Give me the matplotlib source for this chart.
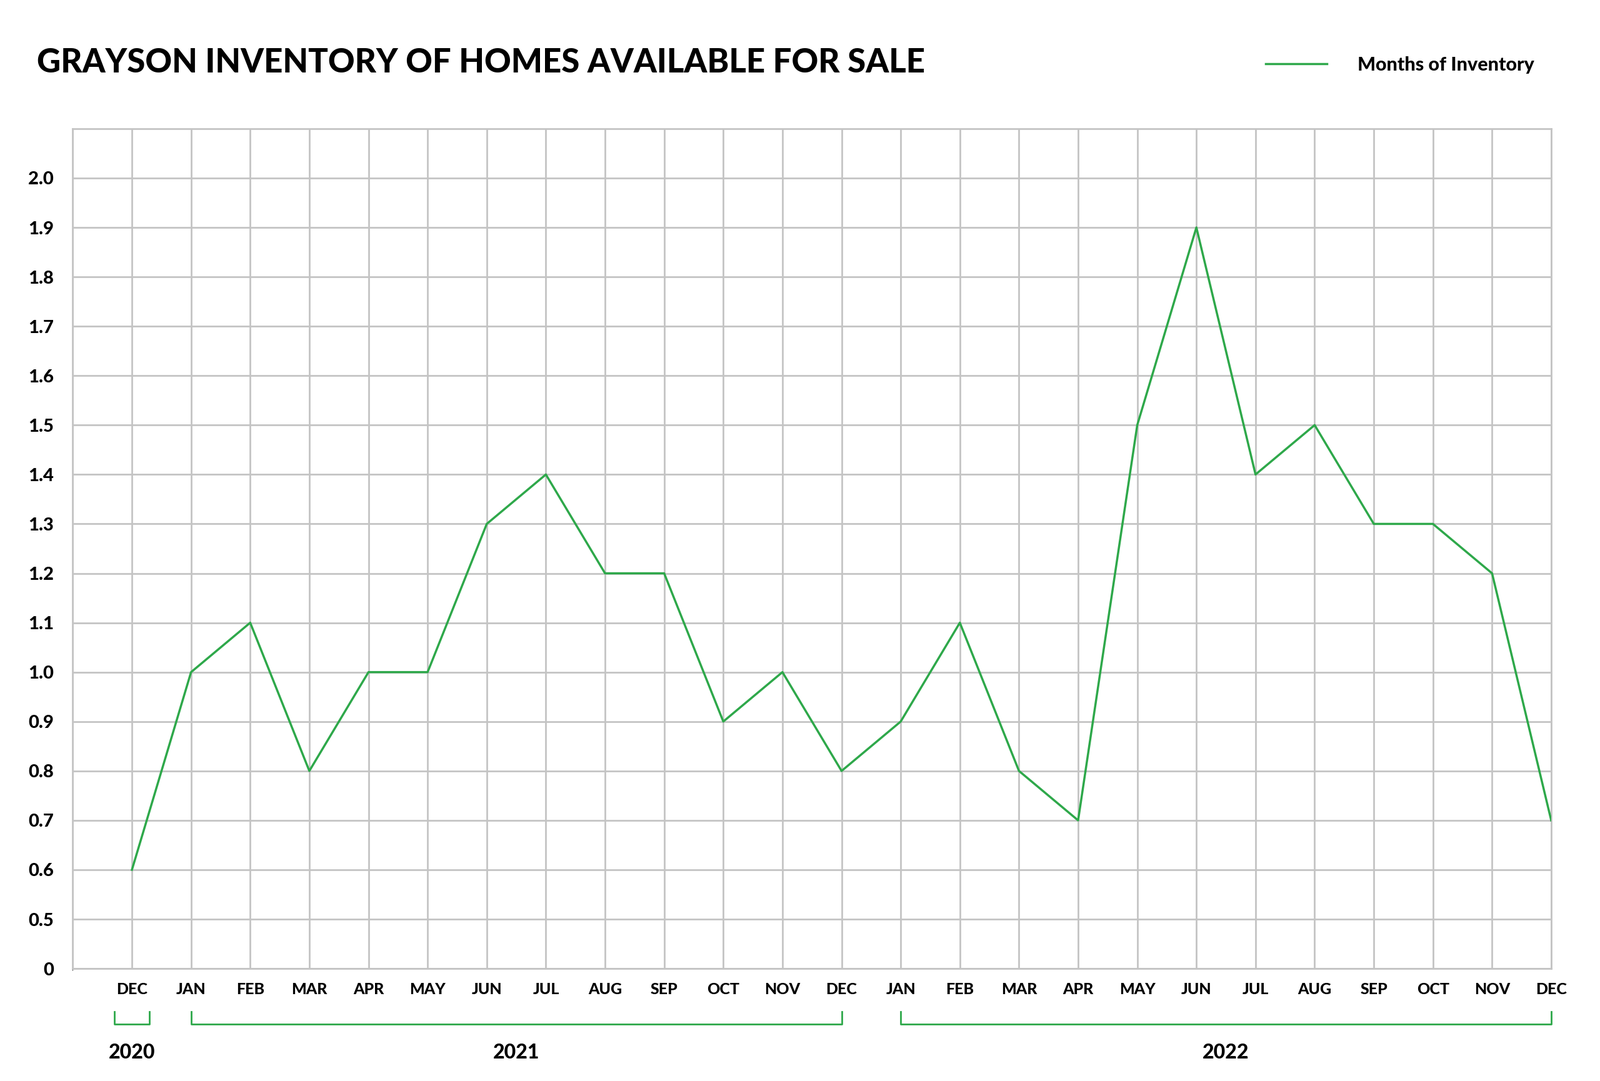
import matplotlib
matplotlib.use("Agg")
import matplotlib.pyplot as plt
import matplotlib.transforms as mtransforms

# data
months = ["DEC", "JAN", "FEB", "MAR", "APR", "MAY", "JUN", "JUL", "AUG", "SEP", "OCT", "NOV", "DEC",
          "JAN", "FEB", "MAR", "APR", "MAY", "JUN", "JUL", "AUG", "SEP", "OCT", "NOV", "DEC"]
inventory = [0.6, 1.0, 1.1, 0.8, 1.0, 1.0, 1.3, 1.4, 1.2, 1.2, 0.9, 1.0, 0.8,
             0.9, 1.1, 0.8, 0.7, 1.5, 1.9, 1.4, 1.5, 1.3, 1.3, 1.2, 0.7]
years = ["2020", "2021", "2022"]
year_spans = [(-0.3, 0.3), (1, 12), (13, 24)]
y_ticks = [0.4, 0.5, 0.6, 0.7, 0.8, 0.9, 1.0, 1.1, 1.2, 1.3, 1.4, 1.5, 1.6, 1.7, 1.8, 1.9, 2.0]
y_labels = ["0"] + [f"{v:.1f}" for v in y_ticks[1:]]

green = "#2ea84a"
font = "Lato"

fig = plt.figure(figsize=(25.6, 17.3), dpi=100)
ax = fig.add_axes([0.0455, 0.104, 0.924, 0.777])

x = list(range(len(months)))
ax.plot(x, inventory, color=green, linewidth=2.5, label="Months of Inventory", zorder=3)

ax.set_xlim(-1, 24)
ax.set_ylim(0.4, 2.1)
ax.set_xticks(x)
ax.set_xticklabels(months, fontfamily=font, fontweight="heavy", fontsize=18)
ax.set_yticks(y_ticks)
ax.set_yticklabels(y_labels, fontfamily=font, fontweight="heavy", fontsize=21)
ax.set_xticks([-1], minor=True)
ax.tick_params(length=0, pad=16, axis="x")
ax.tick_params(length=0, pad=22, axis="y")
ax.grid(True, which="both", color="#c4c4c4", linewidth=2)
for s in ax.spines.values():
    s.set_color("#c4c4c4")
    s.set_linewidth(2)

# year brackets
trans = mtransforms.blended_transform_factory(ax.transData, ax.transAxes)
yb, yt = -0.066, -0.051
for name, (a, b) in zip(years, year_spans):
    ax.plot([a, a, b, b], [yt, yb, yb, yt], color=green, linewidth=2, transform=trans, clip_on=False)
    ax.text((a + b) / 2, -0.1, name, transform=trans, ha="center", va="center",
            fontfamily=font, fontweight="heavy", fontsize=23)

fig.text(0.023, 0.942, "GRAYSON INVENTORY OF HOMES AVAILABLE FOR SALE", fontfamily=font,
         fontweight="heavy", fontsize=38, va="center")
leg = ax.legend(loc="lower right", bbox_to_anchor=(1.0, 1.045), frameon=False, handlelength=3.2,
                handletextpad=1.6, prop={"family": font, "weight": "heavy", "size": 22})

fig.savefig("out.png", dpi=100, facecolor="white")
